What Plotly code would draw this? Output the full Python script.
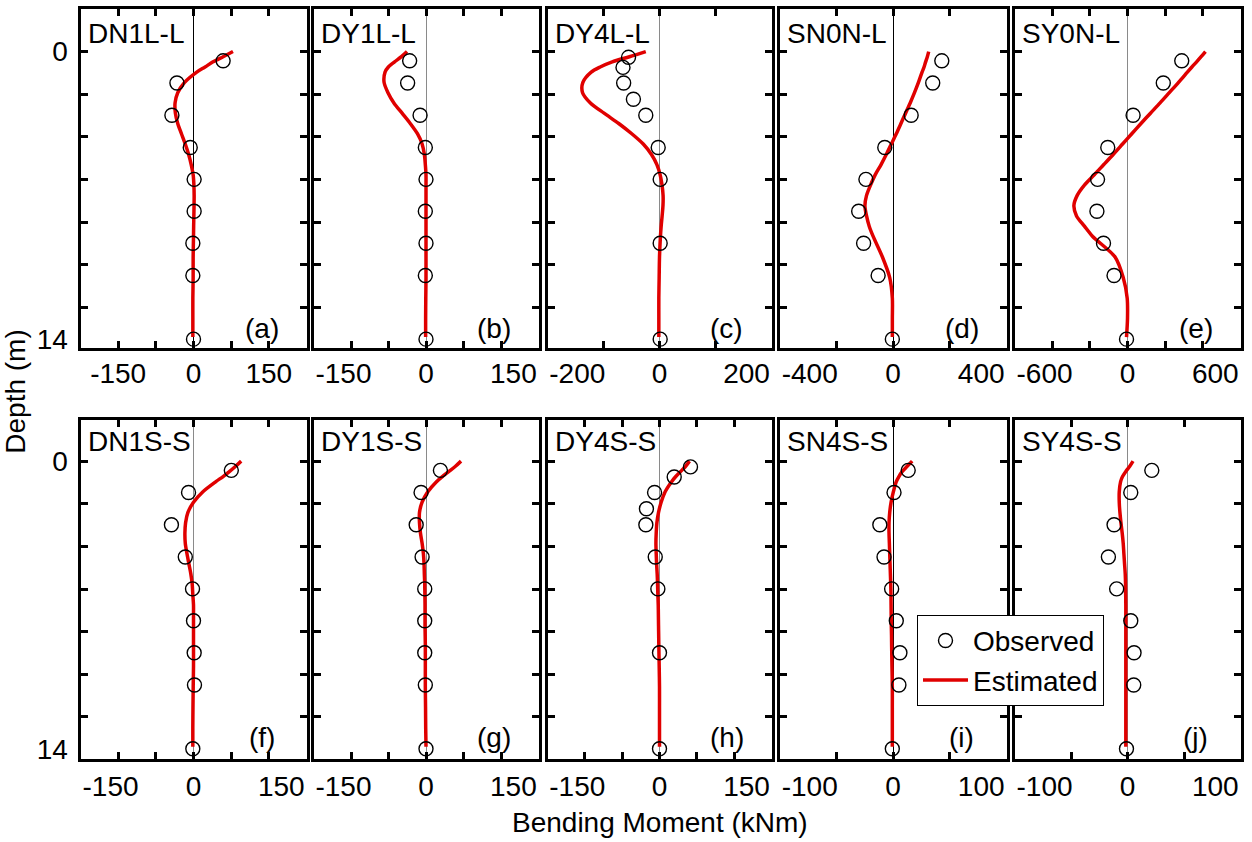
import plotly.graph_objects as go

W, H = 1252, 842
FONT = "Liberation Sans, Arial, Helvetica, sans-serif"

PANEL_NAMES = ["DN1L-L", "DY1L-L", "DY4L-L", "SN0N-L", "SY0N-L",
               "DN1S-S", "DY1S-S", "DY4S-S", "SN4S-S", "SY4S-S"]
PANEL_LETTERS = ["(a)", "(b)", "(c)", "(d)", "(e)", "(f)", "(g)", "(h)", "(i)", "(j)"]

# axis half-ranges (kNm), tick-mark step and printed end labels
X_LIMITS = [225, 150, 200, 400, 600, 150, 150, 150, 100, 100]
X_TICK_STEP = [75, 50, 100, 200, 200, 50, 50, 50, 50, 50]
X_LABEL_VALUES = [150, 150, 200, 400, 600, 150, 150, 150, 100, 100]
LABEL_AT_EDGE = [False, True, True, True, True, True, True, True, True, True]
ZERO_COLORS = ["#000000", "#8a8a8a", "#8a8a8a", "#000000", "#8a8a8a",
               "#8a8a8a", "#8a8a8a", "#8a8a8a", "#000000", "#8a8a8a"]

# depths (m)
OBS_DEPTH = [0.45, 1.53, 3.1, 4.67, 6.22, 7.77, 9.33, 10.9, 14.0]
OBS_DEPTH_SHALLOW = [0.28, 0.77, 1.53, 2.32, 3.1, 4.67, 6.22, 9.33, 14.0]
EST_DEPTH = [0, 0.25, 0.5, 0.75, 1, 1.5, 2, 2.5, 3, 3.5, 4, 4.5, 5, 5.5, 6,
             6.5, 7, 7.5, 8, 8.5, 9, 10, 11, 12, 13, 13.9]

# observed bending moments (kNm)
OBS_A = [59, -33, -43, -6.5, 1.3, 1.3, -1.3, -1.3, 0]
OBS_B = [-21.8, -24.5, -7.9, -0.9, 0, -0.9, 0, -0.9, 0]
OBS_C = [-55.3, -65.2, -64, -46.6, -24.5, -2.3, 1.2, 1.2, 1.2]
OBS_D = [172, 140, 64, -29, -95.5, -121, -103.6, -52.4, -2.3]
OBS_E = [288, 190, 29.7, -104.8, -159, -162.4, -127.5, -71.6, -5.2]
OBS_F = [50.2, -6.6, -29.3, -10.9, -1.3, 0, 0.9, 1.3, -0.9]
OBS_G = [19.2, -6.6, -13.1, -5.2, -1.7, -1.7, -1.7, -0.9, 0]
OBS_H = [41.5, 19.7, -6.6, -17.5, -18.3, -5.7, -2.2, 0, 0]
OBS_I = [13.4, 0.9, -11.6, -7.9, -1.2, 2.9, 6.1, 5.2, -0.6]
OBS_J = [21.5, 2.9, -11.9, -16.9, -9.6, 2.9, 5.8, 5.5, -0.9]

# estimated bending moments (kNm) at EST_DEPTH
EST_A = [78.6, 59, 39, 23, 6.5, -17.7, -31.4, -36.7, -36, -31.4, -24, -16.4, -9.8, -4.6, -0.7,
         0.8, 1.3, 1.1, 0.7, 0.3, 0, -0.7, -0.7, -1.3, -1.3, -1.3]
EST_B = [-25.3, -32.8, -41.9, -50.2, -54.6, -55.9, -50.7, -42.8, -31.9, -21, -11.4, -5.2, -2.2, -0.9, 0,
         0, 0, 0, 0, 0, 0, 0, 0, -0.3, -0.5, -0.5]
EST_C = [-24.5, -53.6, -84.4, -106, -122, -136.8, -137.4, -123.4, -99, -72.8, -49.5, -29, -14.6, -4.7, 1.2,
         4.5, 6.4, 6.2, 4.7, 3, 1.7, 0, -0.6, -1.2, -1.2, -1.2]
EST_D = [125.8, 121, 115, 109.5, 102.5, 89.7, 75.7, 60.6, 44.3, 28, 11.6, -5.8, -23.3, -42, -62.9,
         -79.2, -93.2, -99, -93.2, -83.8, -69.9, -37.3, -11.6, -2.3, -2.3, -2.3]
EST_E = [414, 391, 367, 342, 318, 271, 222, 173, 122, 71.6, 22.7, -26.2, -75, -125.8, -176.4,
         -228.8, -267, -284.7, -270.7, -228.8, -185, -66, -22.7, -1.7, 0, -5.2]
EST_F = [63.3, 55.9, 48, 39.3, 29.7, 12.2, 0, -7.4, -10.5, -11.4, -10.9, -8.7, -6.1, -3.5, -1.7,
         -0.9, 0, 0, 0, 0, 0, 0, -0.4, -0.7, -0.9, -0.9]
EST_G = [46.7, 39.3, 30.6, 21.8, 14, 2.2, -5.2, -8.7, -8.7, -7.4, -5.2, -3.5, -2.6, -2.2, -1.7,
         -1.5, -1.3, -1.3, -1.3, -1.1, -0.9, -0.9, -0.9, -0.6, -0.4, 0]
EST_H = [40.2, 35, 28.4, 21.8, 16.2, 7.4, 2.2, -1.3, -3.5, -4.4, -4.8, -4.4, -3.9, -3.1, -2.6,
         -2.2, -1.7, -1.5, -1.3, -1.1, -0.9, -0.4, 0, 0, 0, 0]
EST_I = [16.9, 12.5, 8.2, 5.2, 2.9, 0.3, -1.7, -2.9, -3.5, -3.5, -3.2, -2.9, -2.6, -2.3, -2,
         -1.8, -1.7, -1.6, -1.5, -1.3, -1.2, -0.9, -0.6, -0.6, -0.6, -0.6]
EST_J = [4.9, 2, -1.5, -4.4, -6.1, -7.3, -7.3, -6.7, -5.8, -4.7, -3.8, -3.2, -2.6, -2, -1.7,
         -1.6, -1.5, -1.5, -1.5, -1.5, -1.5, -1.5, -1.5, -1.5, -1.5, -1.5]

OBS = [OBS_A, OBS_B, OBS_C, OBS_D, OBS_E, OBS_F, OBS_G, OBS_H, OBS_I, OBS_J]
EST = [EST_A, EST_B, EST_C, EST_D, EST_E, EST_F, EST_G, EST_H, EST_I, EST_J]
OBS_DEPTHS = [OBS_DEPTH, OBS_DEPTH, OBS_DEPTH_SHALLOW, OBS_DEPTH, OBS_DEPTH,
              OBS_DEPTH, OBS_DEPTH, OBS_DEPTH_SHALLOW, OBS_DEPTH, OBS_DEPTH]

Y_TICK_LABELS = [0, 14]
Y_MARK_STEP = 2.0755
DEPTH_RANGES = [[14.434, -2.052], [14.507, -2.003]]

# layout geometry (pixels)
COL_PX = [(80.5, 306.5), (313.5, 538.5), (547.5, 771.5), (779.5, 1006.5), (1014.5, 1240.5)]
ROW_PX = [(9.5, 351), (423.5, 765.5)]

fig = go.Figure()
layout = {}
annotations = []

for i in range(10):
    r, c = divmod(i, 5)
    n = "" if i == 0 else str(i + 1)
    xl, xr = COL_PX[c]
    yt, yb = ROW_PX[r]
    R = X_LIMITS[i]
    step = X_TICK_STEP[i]
    k = int(R // step)
    marks = [j * step for j in range(-k, k + 1) if abs(j * step) < R]
    L = X_LABEL_VALUES[i]
    if LABEL_AT_EDGE[i]:
        lab_pos = [-0.734 * R, 0, 0.777 * R]
    else:
        lab_pos = [-L, 0, L]
    lab_txt = [f"-{L}", "0", f"{L}"]

    layout["xaxis" + n] = dict(
        domain=[xl / W, xr / W], anchor="y" + n, range=[-R, R],
        showline=True, linecolor="black", linewidth=3, mirror="allticks",
        showgrid=False, zeroline=True, zerolinecolor=ZERO_COLORS[i], zerolinewidth=1,
        tickmode="array", tickvals=lab_pos, ticktext=lab_txt, ticks="", ticklen=0,
        tickfont=dict(family=FONT, size=28, color="black"),
        ticklabelstandoff=(-2 if r == 0 else 0),
        minor=dict(tickmode="array", tickvals=marks, ticks="inside", ticklen=7,
                   tickwidth=2.5, tickcolor="black", showgrid=False),
    )
    ymarks = [j * Y_MARK_STEP for j in range(0, 7)]
    layout["yaxis" + n] = dict(
        domain=[1 - yb / H, 1 - yt / H], anchor="x" + n, range=DEPTH_RANGES[r],
        showline=True, linecolor="black", linewidth=3, mirror="allticks",
        showgrid=False, zeroline=False,
        tickmode="array", tickvals=Y_TICK_LABELS, ticktext=[str(v) for v in Y_TICK_LABELS],
        ticks="", ticklen=0, showticklabels=(c == 0),
        tickfont=dict(family=FONT, size=28, color="black"),
        ticklabelstandoff=4,
        minor=dict(tickmode="array", tickvals=ymarks, ticks="inside", ticklen=7,
                   tickwidth=2.5, tickcolor="black", showgrid=False),
    )

    fig.add_trace(go.Scatter(
        x=EST[i], y=EST_DEPTH, xaxis="x" + n, yaxis="y" + n,
        mode="lines", line=dict(color="#e00000", width=3.5, shape="spline", smoothing=0.8),
        name="Estimated", legendrank=2, showlegend=(i == 0), hoverinfo="skip",
    ))
    fig.add_trace(go.Scatter(
        x=OBS[i], y=OBS_DEPTHS[i], xaxis="x" + n, yaxis="y" + n,
        mode="markers",
        marker=dict(symbol="circle-open", size=14, color="black", line=dict(width=1.4, color="black")),
        name="Observed", legendrank=1, showlegend=(i == 0), hoverinfo="skip",
    ))

    # panel name (top-left) and letter (bottom-right)
    title_y = [34, 445][r]
    letter_y = [331, 744][r]
    annotations.append(dict(
        text=PANEL_NAMES[i], xref="paper", yref="paper",
        x=(xl + 5) / W, y=1 - title_y / H, xanchor="left", yanchor="middle",
        showarrow=False, font=dict(family=FONT, size=28, color="black"),
    ))
    annotations.append(dict(
        text=PANEL_LETTERS[i], xref="paper", yref="paper",
        x=(xr - 45) / W, y=1 - letter_y / H, xanchor="center", yanchor="middle",
        showarrow=False, font=dict(family=FONT, size=28, color="black"),
    ))

annotations.append(dict(
    text="Bending Moment (kNm)", xref="paper", yref="paper",
    x=660 / W, y=1 - 829 / H, xanchor="center", yanchor="middle",
    showarrow=False, font=dict(family=FONT, size=28, color="black"),
))
annotations.append(dict(
    text="Depth (m)", xref="paper", yref="paper",
    x=16 / W, y=1 - 395 / H, xanchor="center", yanchor="middle", textangle=-90,
    showarrow=False, font=dict(family=FONT, size=28, color="black"),
))

fig.update_layout(
    **layout,
    annotations=annotations,
    width=W, height=H, autosize=False,
    margin=dict(l=0, r=0, t=0, b=0, pad=0),
    paper_bgcolor="white", plot_bgcolor="white",
    font=dict(family=FONT, size=28, color="black"),
    legend=dict(
        x=917 / W, y=1 - 620 / H, xanchor="left", yanchor="top",
        bgcolor="white", bordercolor="black", borderwidth=1,
        font=dict(family=FONT, size=28, color="black"),
        tracegroupgap=0, itemwidth=45,
    ),
    showlegend=True,
)

fig.write_html("out.html", config={"displayModeBar": False},
               post_script="document.body.style.margin='0';")
